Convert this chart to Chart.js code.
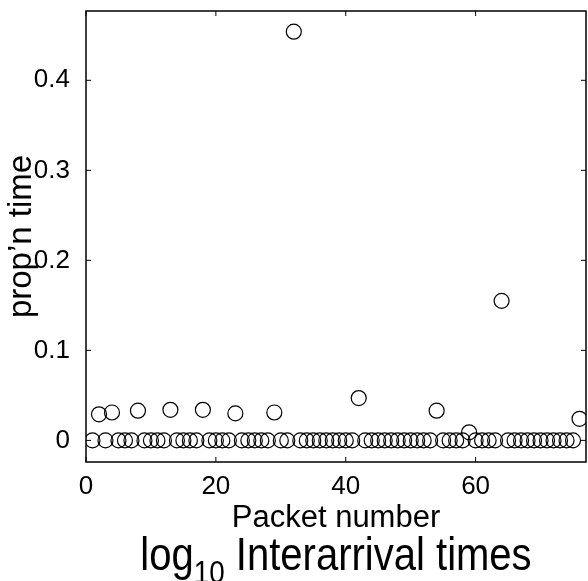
<!DOCTYPE html>
<html>
<head>
<meta charset="utf-8">
<script src="https://cdn.jsdelivr.net/npm/chart.js@4/dist/chart.umd.min.js"></script>
<style>
  body { margin: 0; background: #fff; }
  canvas { display: block; }
</style>
</head>
<body>
<canvas id="grafico" width="588" height="581"></canvas>
<script>
// packet index and proportion of time for each packet
const pacotes = [1, 2, 3, 4, 5, 6, 7, 8, 9, 10, 11, 12, 13, 14, 15, 16, 17, 18, 19, 20,
  21, 22, 23, 24, 25, 26, 27, 28, 29, 30, 31, 32, 33, 34, 35, 36, 37, 38, 39, 40,
  41, 42, 43, 44, 45, 46, 47, 48, 49, 50, 51, 52, 53, 54, 55, 56, 57, 58, 59, 60,
  61, 62, 63, 64, 65, 66, 67, 68, 69, 70, 71, 72, 73, 74, 75, 76]
const proporcao = [0, 0.029, 0, 0.031, 0, 0, 0, 0.033, 0, 0, 0, 0, 0.034, 0, 0, 0, 0, 0.034, 0, 0,
  0, 0, 0.030, 0, 0, 0, 0, 0, 0.031, 0, 0, 0.454, 0, 0, 0, 0, 0, 0, 0, 0,
  0, 0.047, 0, 0, 0, 0, 0, 0, 0, 0, 0, 0, 0, 0.033, 0, 0, 0, 0, 0.009, 0,
  0, 0, 0, 0.155, 0, 0, 0, 0, 0, 0, 0, 0, 0, 0, 0, 0.024]

const ticksX = [0, 20, 40, 60]
const ticksY = [0, 0.1, 0.2, 0.3, 0.4]

const tituloEixoX = 'Packet number'
const tituloEixoY = 'prop\u2019n time'
const tituloBase = 'log'
const tituloSub = '10'
const tituloResto = ' Interarrival times'

Chart.defaults.font.family = '"Liberation Sans", Arial, Helvetica, sans-serif'
Chart.defaults.color = '#000'

// moldura, ticks para dentro e titulo de baixo
const molduraPlugin = {
  id: 'moldura',
  afterDraw(chart) {
    const { ctx, chartArea: a, scales } = chart
    ctx.save()
    ctx.strokeStyle = '#000'
    ctx.lineWidth = 1.5
    ctx.strokeRect(a.left, a.top, a.right - a.left, a.bottom - a.top)

    ctx.lineWidth = 1
    ctx.beginPath()
    ticksX.forEach((v) => {
      const px = scales.x.getPixelForValue(v)
      ctx.moveTo(px, a.bottom); ctx.lineTo(px, a.bottom - 5)
      ctx.moveTo(px, a.top); ctx.lineTo(px, a.top + 5)
    })
    ticksY.forEach((v) => {
      const py = scales.y.getPixelForValue(v)
      ctx.moveTo(a.left, py); ctx.lineTo(a.left + 5, py)
      ctx.moveTo(a.right, py); ctx.lineTo(a.right - 5, py)
    })
    ctx.stroke()

    // log_10 Interarrival times
    const fam = Chart.defaults.font.family
    const fMain = '46px ' + fam
    const fSub = '32px ' + fam
    ctx.fillStyle = '#000'
    ctx.textBaseline = 'alphabetic'
    ctx.textAlign = 'left'
    ctx.translate((a.left + a.right) / 2, 570)
    ctx.scale(0.87, 1)
    ctx.font = fMain
    const w1 = ctx.measureText(tituloBase).width
    const w3 = ctx.measureText(tituloResto).width
    ctx.font = fSub
    const w2 = ctx.measureText(tituloSub).width
    let xx = -(w1 + w2 + w3) / 2
    ctx.font = fMain
    ctx.fillText(tituloBase, xx, 0)
    xx += w1
    ctx.font = fSub
    ctx.fillText(tituloSub, xx, 13)
    xx += w2
    ctx.font = fMain
    ctx.fillText(tituloResto, xx, 0)
    ctx.restore()
  }
}

// tira o espaco extra que o Chart.js reserva para os rotulos
function semPadding(s) {
  s.paddingTop = 0
  s.paddingBottom = 0
  s.paddingLeft = 0
  s.paddingRight = 0
}

const ctx = document.getElementById('grafico')

new Chart(ctx, {
  type: 'scatter',
  data: {
    datasets: [{
      data: pacotes.map((p, i) => ({ x: p, y: proporcao[i] })),
      borderColor: '#000',
      backgroundColor: 'rgba(0,0,0,0)',
      borderWidth: 1.2,
      pointRadius: 7.5,
      pointHoverRadius: 7.5,
      clip: 0
    }]
  },
  options: {
    responsive: false,
    animation: false,
    layout: { autoPadding: false, padding: { top: 11, right: 2, left: 0, bottom: 0 } },
    plugins: {
      legend: { display: false },
      tooltip: { enabled: false }
    },
    scales: {
      x: {
        type: 'linear',
        min: 0,
        max: 77,
        grid: { display: false },
        border: { display: false },
        afterBuildTicks: (s) => { s.ticks = ticksX.map((v) => ({ value: v })) },
        afterFit: (s) => { s.height = 119; semPadding(s) },
        ticks: { font: { size: 26 }, padding: 1, maxRotation: 0, autoSkip: false },
        title: {
          display: true,
          text: tituloEixoX,
          font: { size: 31 },
          padding: { top: 0, bottom: 44 }
        }
      },
      y: {
        min: -0.024,
        max: 0.477,
        grid: { display: false },
        border: { display: false },
        afterBuildTicks: (s) => { s.ticks = ticksY.map((v) => ({ value: v })) },
        afterFit: (s) => { s.width = 86; semPadding(s) },
        ticks: { font: { size: 26 }, padding: 8 },
        title: {
          display: true,
          text: tituloEixoY,
          font: { size: 33 },
          padding: { top: 2, bottom: 0 }
        }
      }
    }
  },
  plugins: [molduraPlugin]
})
</script>
</body>
</html>
